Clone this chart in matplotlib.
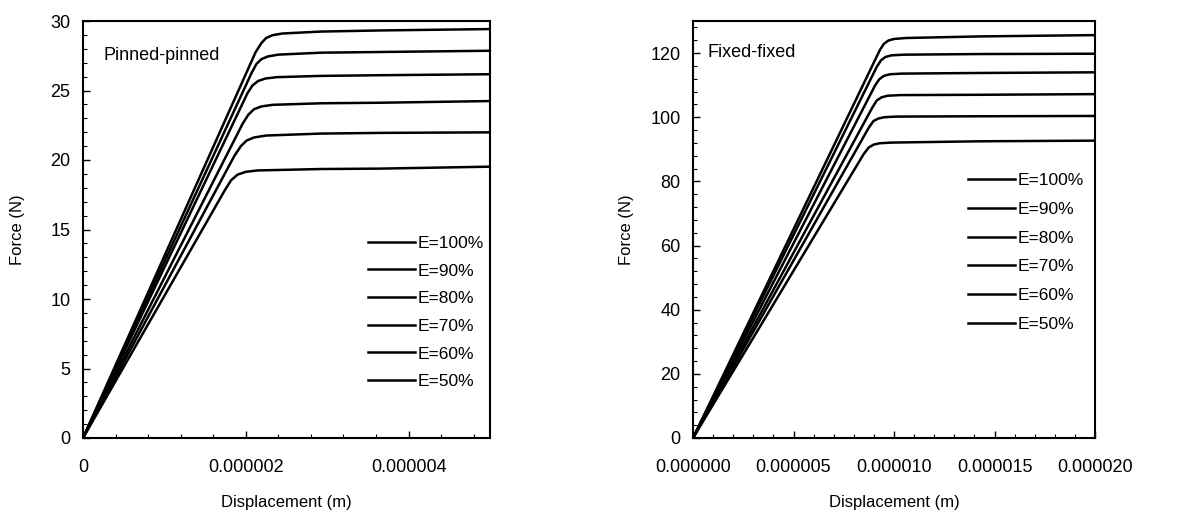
import matplotlib
matplotlib.use("Agg")
import matplotlib.pyplot as plt
from matplotlib.ticker import MultipleLocator, FuncFormatter

plt.rcParams['font.family'] = ['Liberation Sans', 'DejaVu Sans']

# ---------------- data: Pinned-pinned (displacement in m, force in N) ----------------
pp_disp_e100 = [0, 2.12e-6, 2.19e-6, 2.25e-6, 2.33e-6, 2.45e-6, 2.92e-6, 3.65e-6, 5.0e-6]
pp_force_e100 = [0, 27.75, 28.40, 28.78, 28.98, 29.10, 29.24, 29.32, 29.42]
pp_disp_e90 = [0, 2.07e-6, 2.13e-6, 2.19e-6, 2.27e-6, 2.40e-6, 2.92e-6, 3.65e-6, 5.0e-6]
pp_force_e90 = [0, 26.25, 26.90, 27.25, 27.45, 27.58, 27.72, 27.77, 27.86]
pp_disp_e80 = [0, 2.02e-6, 2.08e-6, 2.15e-6, 2.24e-6, 2.38e-6, 2.92e-6, 3.65e-6, 5.0e-6]
pp_force_e80 = [0, 24.80, 25.35, 25.68, 25.86, 25.96, 26.05, 26.10, 26.17]
pp_disp_e70 = [0, 1.96e-6, 2.03e-6, 2.10e-6, 2.19e-6, 2.33e-6, 2.92e-6, 3.65e-6, 5.0e-6]
pp_force_e70 = [0, 22.60, 23.25, 23.65, 23.85, 23.97, 24.08, 24.12, 24.24]
pp_disp_e60 = [0, 1.86e-6, 1.94e-6, 2.01e-6, 2.10e-6, 2.25e-6, 2.92e-6, 3.65e-6, 5.0e-6]
pp_force_e60 = [0, 20.30, 21.00, 21.40, 21.62, 21.76, 21.90, 21.95, 21.99]
pp_disp_e50 = [0, 1.74e-6, 1.82e-6, 1.90e-6, 2.00e-6, 2.15e-6, 2.92e-6, 3.65e-6, 5.0e-6]
pp_force_e50 = [0, 17.80, 18.55, 18.95, 19.15, 19.25, 19.35, 19.38, 19.52]

# ---------------- data: Fixed-fixed ----------------
ff_disp_e100 = [0, 9.30e-6, 9.50e-6, 9.72e-6, 10.0e-6, 10.6e-6, 14.31e-6, 20.0e-6]
ff_force_e100 = [0, 121.0, 122.9, 123.9, 124.4, 124.7, 125.2, 125.6]
ff_disp_e90 = [0, 9.15e-6, 9.36e-6, 9.58e-6, 9.88e-6, 10.5e-6, 14.31e-6, 20.0e-6]
ff_force_e90 = [0, 115.8, 117.8, 118.8, 119.3, 119.5, 119.7, 119.8]
ff_disp_e80 = [0, 9.05e-6, 9.26e-6, 9.50e-6, 9.80e-6, 10.4e-6, 14.31e-6, 20.0e-6]
ff_force_e80 = [0, 109.8, 111.8, 112.9, 113.4, 113.6, 113.8, 114.0]
ff_disp_e70 = [0, 8.92e-6, 9.14e-6, 9.38e-6, 9.68e-6, 10.3e-6, 14.31e-6, 20.0e-6]
ff_force_e70 = [0, 103.0, 105.2, 106.2, 106.7, 106.9, 107.0, 107.2]
ff_disp_e60 = [0, 8.75e-6, 8.98e-6, 9.22e-6, 9.52e-6, 10.1e-6, 14.31e-6, 20.0e-6]
ff_force_e60 = [0, 96.8, 98.8, 99.6, 100.0, 100.2, 100.3, 100.4]
ff_disp_e50 = [0, 8.50e-6, 8.75e-6, 9.00e-6, 9.30e-6, 9.9e-6, 14.31e-6, 20.0e-6]
ff_force_e50 = [0, 88.6, 90.6, 91.5, 91.9, 92.1, 92.5, 92.7]

labels = ["E=100%", "E=90%", "E=80%", "E=70%", "E=60%", "E=50%"]
pp_disps = [pp_disp_e100, pp_disp_e90, pp_disp_e80, pp_disp_e70, pp_disp_e60, pp_disp_e50]
pp_forces = [pp_force_e100, pp_force_e90, pp_force_e80, pp_force_e70, pp_force_e60, pp_force_e50]
ff_disps = [ff_disp_e100, ff_disp_e90, ff_disp_e80, ff_disp_e70, ff_disp_e60, ff_disp_e50]
ff_forces = [ff_force_e100, ff_force_e90, ff_force_e80, ff_force_e70, ff_force_e60, ff_force_e50]

FS_TICK = 13
FS_LAB = 12
FS_TXT = 13
FS_LEG = 12.5
fig = plt.figure(figsize=(11.84, 5.19), dpi=100)
ax1 = fig.add_axes([83 / 1184, 81 / 519, 407 / 1184, 417 / 519])
ax2 = fig.add_axes([693 / 1184, 81 / 519, 402 / 1184, 417 / 519])

for d, f, lab in zip(pp_disps, pp_forces, labels):
    ax1.plot(d, f, color='black', lw=1.8, label=lab, solid_joinstyle='round')
for d, f, lab in zip(ff_disps, ff_forces, labels):
    ax2.plot(d, f, color='black', lw=1.8, label=lab, solid_joinstyle='round')

ax1.set_xlim(0, 5e-6)
ax1.set_ylim(0, 30)
ax1.xaxis.set_major_locator(MultipleLocator(2e-6))
ax1.xaxis.set_minor_locator(MultipleLocator(0.4e-6))
ax1.yaxis.set_major_locator(MultipleLocator(5))
ax1.yaxis.set_minor_locator(MultipleLocator(1))
ax1.xaxis.set_major_formatter(FuncFormatter(lambda v, p: "0" if abs(v) < 1e-12 else f"{v:.6f}"))

ax2.set_xlim(0, 2e-5)
ax2.set_ylim(0, 130)
ax2.xaxis.set_major_locator(MultipleLocator(5e-6))
ax2.xaxis.set_minor_locator(MultipleLocator(1e-6))
ax2.yaxis.set_major_locator(MultipleLocator(20))
ax2.yaxis.set_minor_locator(MultipleLocator(4))
ax2.xaxis.set_major_formatter(FuncFormatter(lambda v, p: f"{abs(v):.6f}"))

for ax in (ax1, ax2):
    for s in ax.spines.values():
        s.set_linewidth(1.5)
    ax.tick_params(which='both', direction='in', top=False, right=False, labelsize=FS_TICK)
    ax.tick_params(which='major', length=5, width=1)
    ax.tick_params(which='minor', length=3, width=0.8)
    ax.tick_params(axis='x', which='major', pad=15)
    ax.tick_params(axis='y', which='major', pad=9)
    ax.set_xlabel("Displacement (m)", fontsize=FS_LAB, labelpad=14)
    ax.set_ylabel("Force (N)", fontsize=FS_LAB)

ax1.yaxis.set_label_coords(-0.143, 0.5)
ax2.yaxis.set_label_coords(-0.147, 0.5)

ax1.text(0.05, 0.918, "Pinned-pinned", transform=ax1.transAxes, fontsize=FS_TXT, va='center', ha='left')
ax2.text(0.037, 0.925, "Fixed-fixed", transform=ax2.transAxes, fontsize=FS_TXT, va='center', ha='left')

leg_kw = dict(frameon=False, fontsize=FS_LEG, handlelength=2.7, handletextpad=0.15,
              borderpad=0, borderaxespad=0, loc='upper left')
ax1.legend(bbox_to_anchor=(0.70, 0.485), labelspacing=0.72, **leg_kw)
ax2.legend(bbox_to_anchor=(0.685, 0.635), labelspacing=0.78, **leg_kw)

fig.savefig("out.png", dpi=100)
